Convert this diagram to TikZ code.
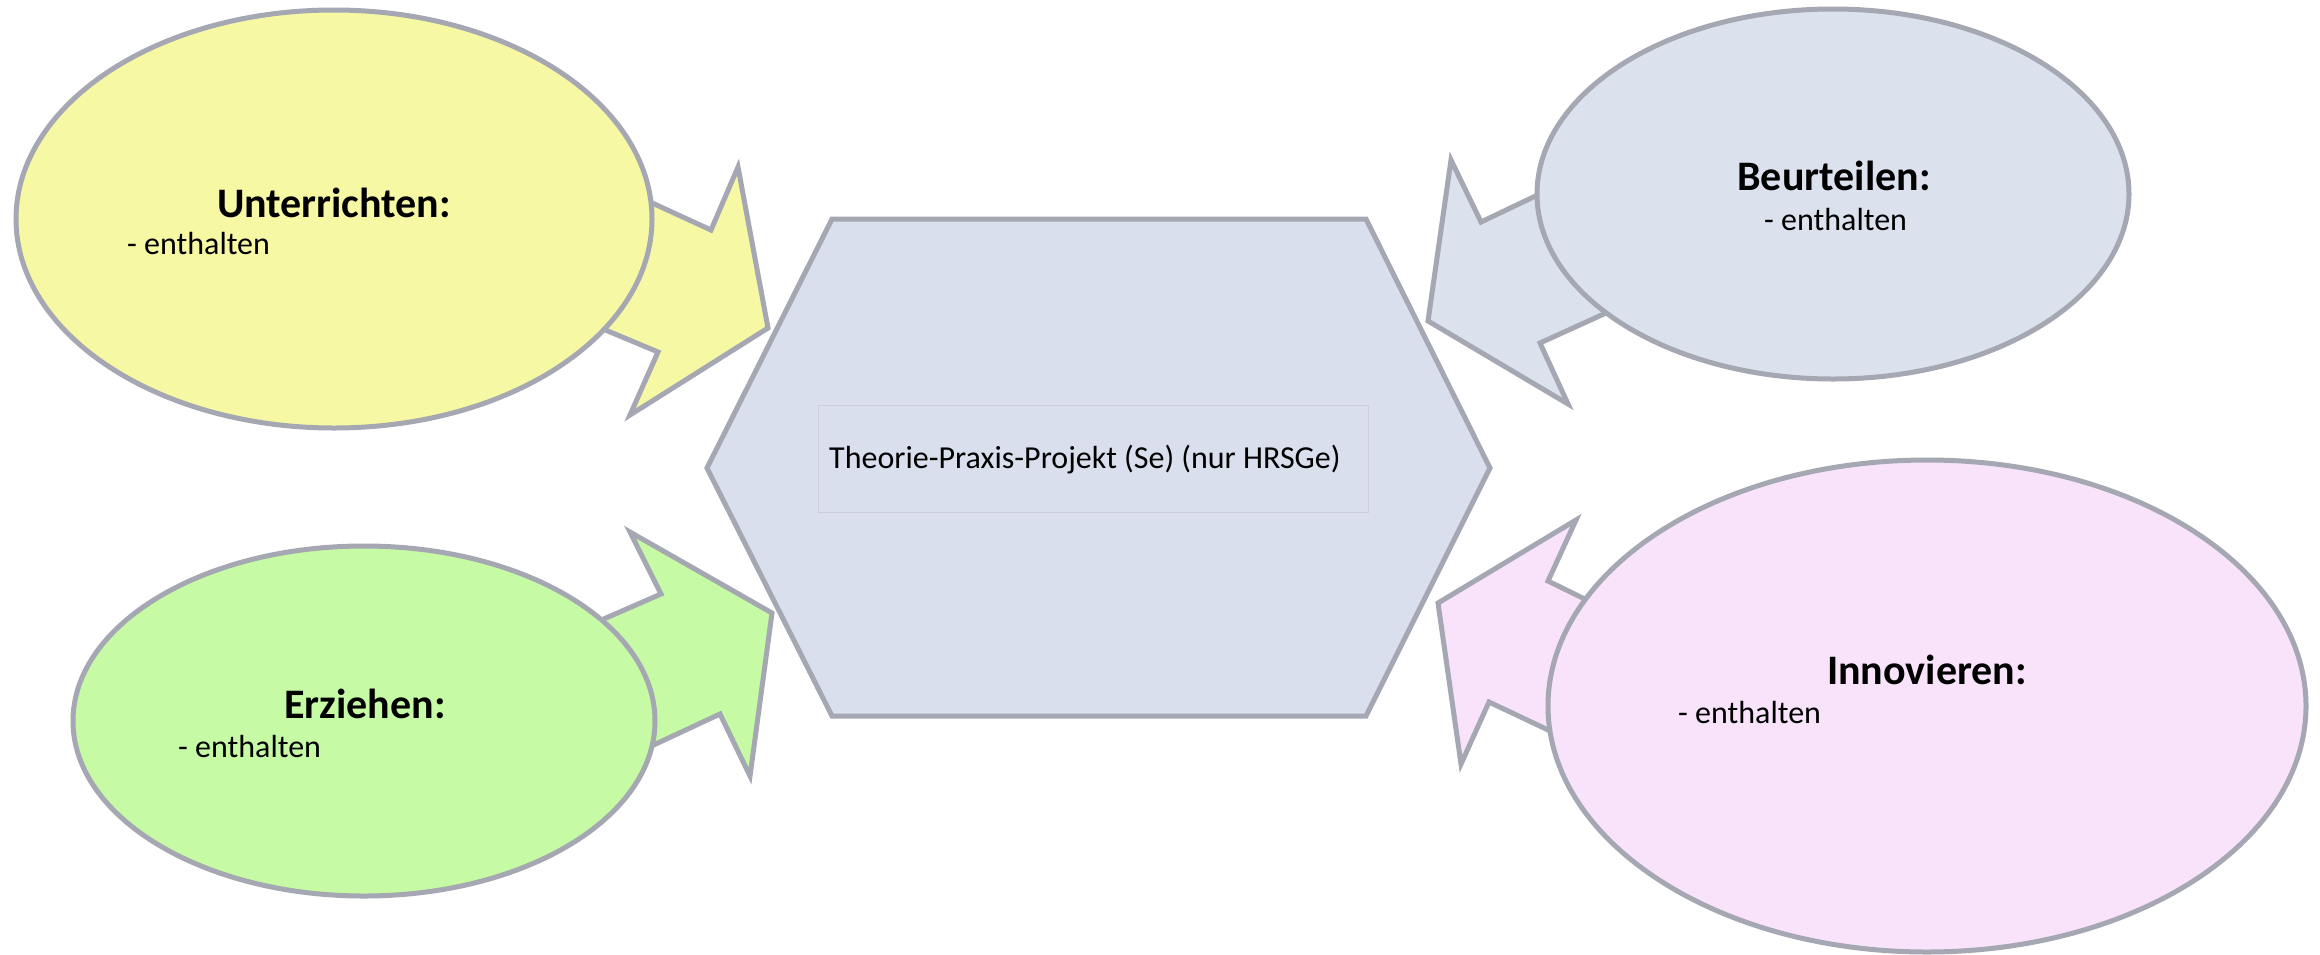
\documentclass[tikz,border=0pt]{standalone}
\usepackage{fontspec}
\setmainfont{Carlito}
\usetikzlibrary{shapes.geometric}
\definecolor{edgegrey}{RGB}{165,167,178}
\definecolor{boxgrey}{RGB}{205,207,216}
\definecolor{yelfill}{RGB}{246,248,164}
\definecolor{bluefill}{RGB}{220,225,238}
\definecolor{hexfill}{RGB}{217,223,236}
\definecolor{greenfill}{RGB}{198,250,164}
\definecolor{pinkfill}{RGB}{248,227,251}
\begin{document}
\begin{tikzpicture}[x=1pt,y=-1pt,
  outline/.style={draw=edgegrey, line width=5pt, line join=miter},
  bubble/.style={outline, ellipse, inner sep=0pt, outer sep=0pt},
  titletext/.style={inner sep=0pt, font=\fontsize{42}{50}\selectfont\bfseries},
  itemtext/.style={inner sep=0pt, anchor=west, font=\fontsize{32}{38}\selectfont},
  centertext/.style={inner sep=0pt, anchor=west, font=\fontsize{32}{38}\selectfont}]
\useasboundingbox (0,0) rectangle (2320,954);

% central hexagon
\filldraw[outline, fill=hexfill] (707,468) -- (832,219) -- (1366,219) -- (1490,468) -- (1366,716) -- (832,716) -- cycle;
\node[draw=boxgrey, line width=1pt, fill=hexfill, minimum width=550pt, minimum height=107pt, inner sep=0pt] (box) at (1093,458.5) {};
\node[centertext] (ct) at (829,460) {Theorie-Praxis-Projekt (Se) (nur HRSGe)};

% callout tails
\filldraw[outline, fill=yelfill] (600,179) -- (711,230) -- (738,167) -- (768,328) -- (630,415) -- (658,352) -- (560,311) -- cycle;
\filldraw[outline, fill=bluefill] (1590,170) -- (1481,222) -- (1451,160) -- (1428,321) -- (1568,404) -- (1540,343) -- (1650,293) -- cycle;
\filldraw[outline, fill=greenfill] (560,638) -- (661,594) -- (630,532) -- (772,613) -- (750,776) -- (720,714) -- (600,770) -- cycle;
\filldraw[outline, fill=pinkfill] (1650,631) -- (1548,581) -- (1576,520) -- (1438,603) -- (1461,764) -- (1489,702) -- (1620,764) -- cycle;

% ellipses
\node[bubble, fill=yelfill, minimum width=636pt, minimum height=418pt] (u) at (334,219) {};
\node[bubble, fill=bluefill, minimum width=592pt, minimum height=370pt] (b) at (1833,194) {};
\node[bubble, fill=greenfill, minimum width=582pt, minimum height=350pt] (e) at (364,721) {};
\node[bubble, fill=pinkfill, minimum width=758pt, minimum height=492pt] (i) at (1927,706) {};

% texts
\node[titletext] (ut) at (334,203) {Unterrichten:};
\node[itemtext] (ui) at (127,244) {- enthalten};
\node[titletext] (bt) at (1834,176) {Beurteilen:};
\node[itemtext] (bi) at (1764,220) {- enthalten};
\node[titletext] (et) at (365,704) {Erziehen:};
\node[itemtext] (ei) at (178,746) {- enthalten};
\node[titletext] (it) at (1927,670) {Innovieren:};
\node[itemtext] (ii) at (1678,712) {- enthalten};
\end{tikzpicture}
\end{document}
